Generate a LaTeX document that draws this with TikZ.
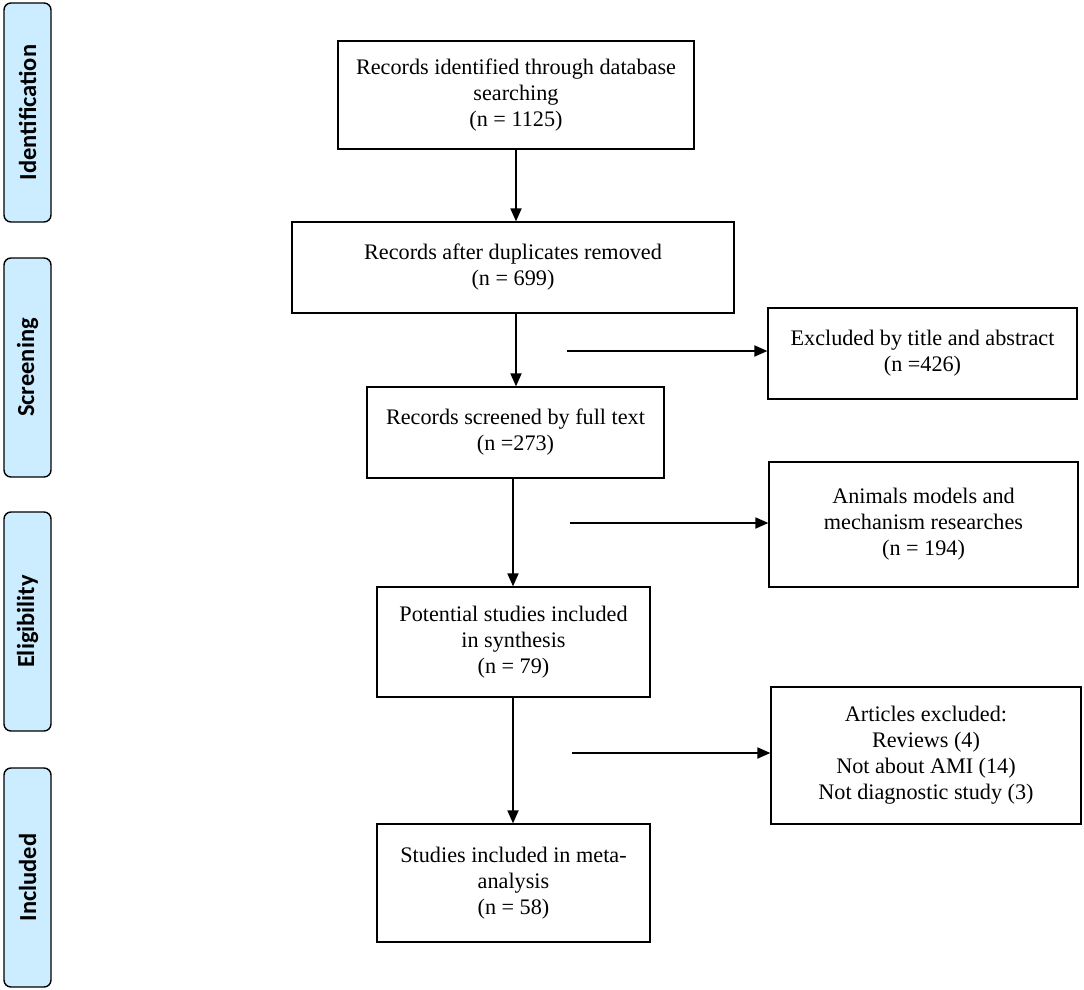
\documentclass[tikz,border=0pt]{standalone}
\usepackage{fontspec}
\setmainfont{Liberation Serif}
\newfontfamily\sidefont{Carlito}
\usetikzlibrary{arrows.meta}
\definecolor{sideblue}{HTML}{CCECFF}
\tikzset{
  flowbox/.style={draw=black, line width=1.2pt, fill=white, align=center, inner sep=0pt,
    font=\fontsize{22.2}{26}\selectfont},
  sidebox/.style={draw=black, line width=1.4pt, fill=sideblue, rounded corners=7pt,
    minimum width=47pt, minimum height=219pt, inner sep=0pt},
  sidelabel/.style={rotate=90, font=\sidefont\bfseries\fontsize{24.5}{28}\selectfont},
  arr/.style={line width=1.8pt, -{Triangle[length=13pt, width=11pt]}}
}
\begin{document}
\begin{tikzpicture}[x=1pt, y=-1pt]
\useasboundingbox (0,0) rectangle (1084,990);

% side phase boxes
\node[sidebox] (s1) at (27.5,112.5) {};
\node[sidelabel] (t1) at (s1.center) {Identification};
\node[sidebox] (s2) at (27.5,367.5) {};
\node[sidelabel] (t2) at (s2.center) {Screening};
\node[sidebox] (s3) at (27.5,621.5) {};
\node[sidelabel] (t3) at (s3.center) {Eligibility};
\node[sidebox] (s4) at (27.5,877.5) {};
\node[sidelabel] (t4) at (s4.center) {Included};

% main flow
\node[flowbox, minimum width=356pt, minimum height=108pt] (b1) at (516,95)
  {Records identified through database\\searching\\(n = 1125)};
\node[flowbox, minimum width=442pt, minimum height=91pt] (b2) at (513,267.5)
  {Records after duplicates removed\\(n = 699)};
\node[flowbox, minimum width=297pt, minimum height=91pt] (b3) at (515.5,432.5)
  {Records screened by full text\\(n =273)};
\node[flowbox, minimum width=273pt, minimum height=110pt] (b4) at (513.5,642)
  {Potential studies included\\in synthesis\\(n = 79)};
\node[flowbox, minimum width=273pt, minimum height=118pt] (b5) at (513.5,883)
  {Studies included in meta-\\analysis\\(n = 58)};

% exclusion boxes
\node[flowbox, minimum width=309pt, minimum height=91pt] (e1) at (922.5,353.5)
  {Excluded by title and abstract\\(n =426)};
\node[flowbox, minimum width=309pt, minimum height=125pt] (e2) at (923.5,524.5)
  {Animals models and\\mechanism researches\\(n = 194)};
\node[flowbox, minimum width=310pt, minimum height=137pt] (e3) at (926,755.5)
  {Articles excluded:\\Reviews (4)\\Not about AMI (14)\\Not diagnostic study (3)};

% vertical arrows
\coordinate (v1) at (516,0);
\coordinate (v3) at (513,0);
\draw[arr] (b1.south -| v1) -- (b2.north -| v1);
\draw[arr] (b2.south -| v1) -- (b3.north -| v1);
\draw[arr] (b3.south -| v3) -- (b4.north -| v3);
\draw[arr] (b4.south -| v3) -- (b5.north -| v3);

% horizontal arrows
\coordinate (c1) at (567,351);
\coordinate (c2) at (570,523);
\coordinate (c3) at (572,753);
\draw[arr] (c1) -- (c1 -| e1.west);
\draw[arr] (c2) -- (c2 -| e2.west);
\draw[arr] (c3) -- (c3 -| e3.west);
\end{tikzpicture}
\end{document}
